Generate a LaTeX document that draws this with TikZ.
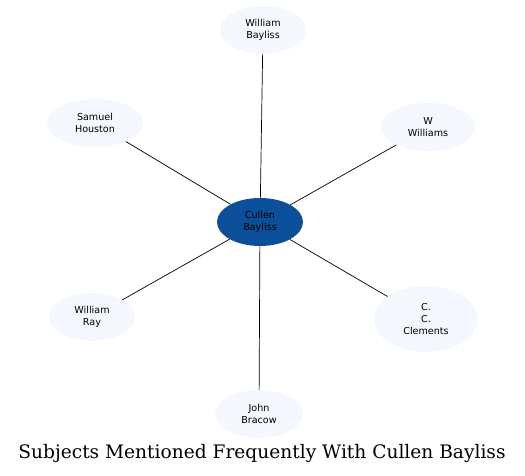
\documentclass[tikz,border=0pt]{standalone}
\usepackage{fontspec}
\setmainfont{DejaVu Sans}
\newfontfamily\titlefont{DejaVu Serif}
\usepackage{tikz}
\usetikzlibrary{shapes.geometric, positioning}
\definecolor{hubblue}{HTML}{0B4F9B}
\definecolor{paleblue}{HTML}{F4F8FE}
\tikzset{
	subjnode/.style={ellipse, fill=paleblue, draw=none, inner sep=0pt,
			minimum width=86pt, minimum height=48pt, align=center,
			font=\fontsize{9.6}{12.2}\selectfont}
}
\tikzset{
	hubnode/.style={subjnode, fill=hubblue}
}
\tikzset{
	spoke/.style={draw=black, line width=0.7pt}
}

\begin{document}
\begin{tikzpicture}[x=1pt, y=-1pt]

			\useasboundingbox (0,0) rectangle (525,476);

			\begin{scope}
				\node[hubnode] (cullen) at (260,222) {Cullen\\Bayliss};
			\end{scope}

			\begin{scope}
				\node[subjnode] (wbayliss) at (263,30) {William\\Bayliss};
				\node[subjnode, minimum width=96pt] (houston) at (95,123) {Samuel\\Houston};
				\node[subjnode, minimum width=94pt] (williams) at (428,127) {W\\Williams};
				\node[subjnode] (ray) at (92,317) {William\\Ray};
				\node[subjnode, minimum width=104pt, minimum height=66pt] (clements) at (426,319) {C.\\C.\\Clements};
				\node[subjnode, minimum width=88pt] (bracow) at (259,414) {John\\Bracow};
			\end{scope}

			\begin{scope}
				\draw[spoke] (cullen) -- (wbayliss);
				\draw[spoke] (cullen) -- (houston);
				\draw[spoke] (cullen) -- (williams);
				\draw[spoke] (cullen) -- (ray);
				\draw[spoke] (cullen) -- (clements);
				\draw[spoke] (cullen) -- (bracow);
			\end{scope}

			\node[font=\titlefont\fontsize{18.6}{20}\selectfont] (caption) at (262,453) {Subjects Mentioned Frequently With Cullen Bayliss};

		\end{tikzpicture}
\end{document}
